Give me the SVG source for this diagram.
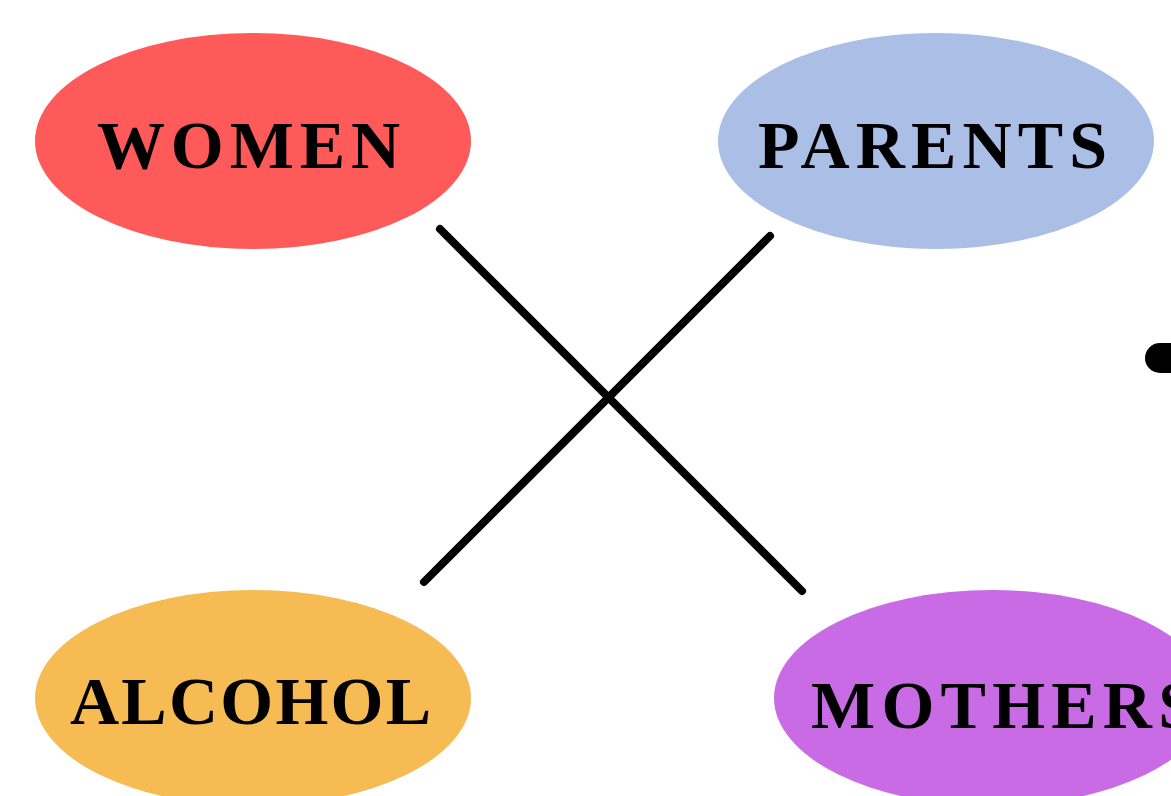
<svg xmlns="http://www.w3.org/2000/svg" width="1171" height="796" viewBox="0 0 1171 796">
<style>
.lbl{font-family:"Liberation Serif","DejaVu Serif",serif;font-weight:bold;font-size:68px;fill:#000;}
.conn{stroke:#000;stroke-width:8;stroke-linecap:round;fill:none;}
</style>
<rect width="1171" height="796" fill="#fff"/>
<g id="women">
<ellipse cx="253" cy="141" rx="218" ry="108" fill="#FF5A5A"/>
<text class="lbl" x="97" y="168" textLength="303" lengthAdjust="spacing">WOMEN</text>
</g>
<g id="parents">
<ellipse cx="936" cy="141" rx="218" ry="108" fill="#AABEE6"/>
<text class="lbl" x="758" y="168" textLength="349" lengthAdjust="spacing">PARENTS</text>
</g>
<g id="alcohol">
<ellipse cx="253" cy="698" rx="218" ry="108" fill="#F6BB52"/>
<text class="lbl" x="70" y="724" textLength="361" lengthAdjust="spacing">ALCOHOL</text>
</g>
<g id="mothers">
<ellipse cx="992" cy="698" rx="218" ry="108" fill="#C96BE5"/>
<text class="lbl" x="811" y="728" textLength="385" lengthAdjust="spacing">MOTHERS</text>
</g>
<g id="connectors">
<line class="conn" x1="440" y1="229" x2="802" y2="591"/>
<line class="conn" x1="770" y1="236" x2="424" y2="582"/>
<line x1="1160" y1="358" x2="1200" y2="358" stroke="#000" stroke-width="30" stroke-linecap="round"/>
</g>
</svg>
